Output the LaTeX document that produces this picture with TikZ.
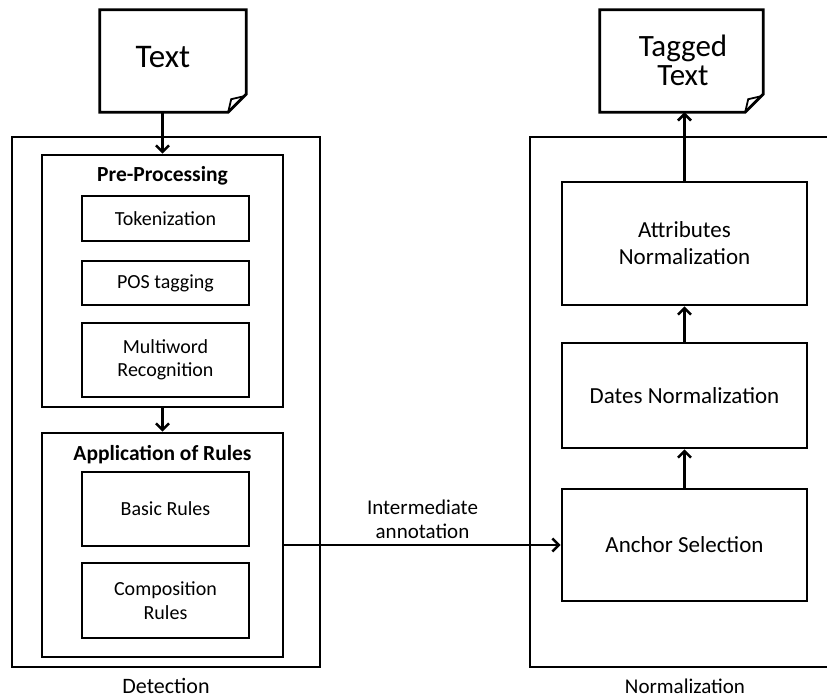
\documentclass[tikz,border=0pt]{standalone}
\usepackage{fontspec}
\setmainfont{Carlito}
\usetikzlibrary{arrows.meta}

\tikzset{
  frame/.style={draw=black, line width=2.6pt, rectangle, inner sep=0pt},
  stepbox/.style={frame, align=center, font=\fontsize{20}{23.5}\selectfont},
  normbox/.style={frame, align=center, font=\fontsize{23}{27}\selectfont, minimum width=245pt},
  title/.style={font=\fontsize{21.5}{24}\selectfont\bfseries},
  caption/.style={font=\fontsize{21}{24}\selectfont, align=center},
  link/.style={line width=2.6pt, -{Straight Barb[length=6.5pt, width=13pt, line width=2.6pt]}},
  doc/.style={line width=2.8pt, line join=miter}
}

\begin{document}
\begin{tikzpicture}[x=1pt, y=-1pt]
\useasboundingbox (0,0) rectangle (827,699);

% ---- input document ----
\node[minimum width=146pt, minimum height=102pt, inner sep=0pt] (textdoc) at (173,61) {};
\draw[doc] (textdoc.north west) -- (textdoc.north east) -- ([yshift=18pt]textdoc.south east)
  -- ([xshift=-18pt]textdoc.south east) -- (textdoc.south west) -- cycle;
\draw[line width=1.8pt] ([xshift=-18pt]textdoc.south east) -- ([xshift=-15pt,yshift=13pt]textdoc.south east)
  -- ([xshift=-2pt,yshift=16pt]textdoc.south east);
\node[font=\fontsize{33}{33}\selectfont] (textlbl) at (163,57) {Text};

% ---- output document ----
\node[minimum width=163pt, minimum height=102pt, inner sep=0pt] (tagged) at (681.5,61) {};
\draw[doc] (tagged.north west) -- (tagged.north east) -- ([yshift=18pt]tagged.south east)
  -- ([xshift=-18pt]tagged.south east) -- (tagged.south west) -- cycle;
\draw[line width=1.8pt] ([xshift=-18pt]tagged.south east) -- ([xshift=-15pt,yshift=13pt]tagged.south east)
  -- ([xshift=-2pt,yshift=16pt]tagged.south east);
\node[font=\fontsize{31}{30}\selectfont, align=center] (taggedlbl) at (683,60) {Tagged\\[-1pt]Text};

% ---- detection stage ----
\node[frame, minimum width=308pt, minimum height=530pt] (det) at (166,402) {};
\node[frame, minimum width=241pt, minimum height=252pt] (pre) at (162.5,281) {};
\node[title] (pretitle) at (162.5,176) {Pre-Processing};
\node[stepbox, minimum width=167pt, minimum height=45pt] (tok) at (165.5,218.5) {Tokenization};
\node[stepbox, minimum width=167pt, minimum height=44pt] (pos) at (165.5,283) {POS tagging};
\node[stepbox, minimum width=167pt, minimum height=74pt] (multi) at (165.5,360) {Multiword\\Recognition};

\node[frame, minimum width=241pt, minimum height=224pt] (app) at (162.5,545) {};
\node[title] (apptitle) at (162.5,455) {Application of Rules};
\node[stepbox, minimum width=167pt, minimum height=74pt] (basic) at (165.5,509) {Basic Rules};
\node[stepbox, minimum width=167pt, minimum height=75pt] (comp) at (165.5,600.5) {Composition\\Rules};

\node[caption, font=\fontsize{22}{24}\selectfont, inner sep=1pt] (detlbl) at (166,685.5) {Detection};

% ---- normalization stage (open on the right) ----
\coordinate (nTR) at (830,137);
\coordinate (nBR) at (830,667);
\draw[line width=2.6pt] (nTR) -- (530,137) -- (530,667) -- (nBR);
\node[normbox, minimum height=123pt] (attr) at (684.5,243.5) {Attributes\\Normalization};
\node[normbox, minimum height=105pt] (dates) at (684.5,395.5) {Dates Normalization};
\node[normbox, minimum height=112pt] (anchor) at (684.5,545) {Anchor Selection};
\node[caption, inner sep=1pt] (normlbl) at (685,686.5) {Normalization};

% ---- connectors ----
\draw[link] (pre.north |- textdoc.south) -- (pre.north);
\draw[link] (pre.south) -- (app.north);
\draw[link] (app.east) -- node[caption, above=2pt, pos=0.5] {Intermediate\\annotation} (anchor.west);
\draw[link] (anchor.north) -- (dates.south);
\draw[link] (dates.north) -- (attr.south);
\draw[link] (attr.north) -- (attr.north |- tagged.south);
\end{tikzpicture}
\end{document}
